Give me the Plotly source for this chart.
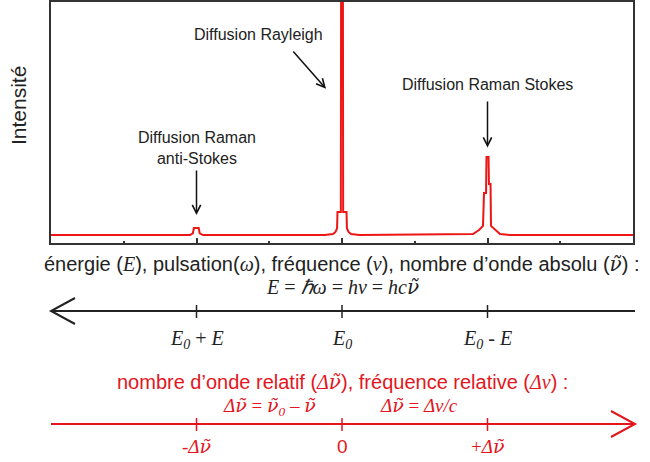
import plotly.graph_objects as go

# ---------------- data ----------------
# relative wavenumber shift (units of Δν̃) and intensity (arbitrary, 0-100)
shift = [-2.0, -1.045, -1.025, -1.018, -0.985, -0.978, -0.955,
         -0.12, -0.062, -0.045, -0.034, -0.031, -0.008, -0.006, 0.006, 0.008, 0.031, 0.034, 0.045, 0.062, 0.12,
         0.90, 0.942, 0.969, 0.976, 0.99, 0.993, 1.007, 1.01, 1.021, 1.024, 1.052, 1.086, 1.155,
         2.0]
intensity = [3.3, 3.3, 4.0, 6.2, 6.2, 4.0, 3.3,
             3.3, 3.7, 4.6, 6.0, 12.9, 12.9, 120, 120, 12.9, 12.9, 6.0, 4.6, 3.7, 3.3,
             3.7, 5.4, 7.1, 20.7, 20.7, 35.7, 35.7, 24.5, 24.5, 7.1, 5.4, 3.7, 3.3,
             3.3]

peak_pos = [-1.0, 0.0, 1.0]
peak_names = ["Diffusion Raman<br>anti-Stokes", "Diffusion Rayleigh", "Diffusion Raman Stokes"]

axis_ticks = [-1, 0, 1]
NU = "<span style=\"font-family:DejaVu Serif\"><i>ν̃</i></span>"
energy_labels = ["<i>E</i><sub><i>0</i></sub> + <i>E</i>",
                 "<i>E</i><sub><i>0</i></sub>",
                 "<i>E</i><sub><i>0</i></sub> - <i>E</i>"]
relative_labels = ["-<i>Δ</i>" + NU, "<span style=\"font-family:Liberation Sans\">0</span>", "+<i>Δ</i>" + NU]

RED = "#e3161d"
LINE_RED = "#ee1515"
SANS = "Liberation Sans, Arial, sans-serif"
SERIF = "Liberation Serif, Times New Roman, serif"


def py(p):
    """pixel row -> paper y (plot area spans rows 2..462)"""
    return (462 - p) / 460


def px(p):
    """pixel column -> paper x (plot area spans cols 51..633)"""
    return (p - 51) / 582


fig = go.Figure()
fig.add_trace(go.Scatter(x=shift, y=intensity, mode="lines",
                         line=dict(color=LINE_RED, width=2), hoverinfo="skip",
                         showlegend=False, cliponaxis=True))

shapes = []
annotations = []


def note(**kw):
    kw.setdefault("xanchor", "center")
    kw.setdefault("yanchor", "middle")
    kw.setdefault("showarrow", False)
    annotations.append(kw)


# ---- lower black (absolute) axis with left arrow ----
shapes.append(dict(type="line", xref="paper", yref="paper", x0=px(51), x1=px(635),
                   y0=py(311), y1=py(311), line=dict(color="#222", width=2)))
shapes.append(dict(type="path", xref="paper", yref="paper",
                   path=f"M{px(75)},{py(298)} L{px(51)},{py(311)} L{px(75)},{py(324)}",
                   line=dict(color="#222", width=2)))
# ---- lower red (relative) axis with right arrow ----
shapes.append(dict(type="line", xref="paper", yref="paper", x0=px(51), x1=px(635),
                   y0=py(424), y1=py(424), line=dict(color=RED, width=2)))
shapes.append(dict(type="path", xref="paper", yref="paper",
                   path=f"M{px(611)},{py(411)} L{px(635)},{py(424)} L{px(611)},{py(437)}",
                   line=dict(color=RED, width=2)))

for t, lab_e, lab_r in zip(axis_ticks, energy_labels, relative_labels):
    shapes.append(dict(type="line", xref="x", yref="paper", x0=t, x1=t,
                       y0=py(305), y1=py(318), line=dict(color="#222", width=1.5)))
    shapes.append(dict(type="line", xref="x", yref="paper", x0=t, x1=t,
                       y0=py(418), y1=py(431), line=dict(color=RED, width=1.5)))
    note(x=t, y=py(339), xref="x", yref="paper", text=lab_e,
         font=dict(family=SERIF, size=20, color="#222"))
    note(x=t, y=py(446), xref="x", yref="paper", text=lab_r,
         font=dict(family=SERIF, size=19, color=RED))

# ---- explanatory texts ----
sp = "<span style=\"font-family:Liberation Serif\"><i>{}</i></span>"
note(x=0, y=py(264), xref="x", yref="paper",
     text=("énergie (" + sp.format("E") + "), pulsation(" + sp.format("ω") + "), fréquence ("
           + sp.format("ν") + "), nombre d’onde absolu (" + NU + ") :"),
     font=dict(family=SANS, size=20, color="#222"))
note(x=0, y=py(287), xref="x", yref="paper",
     text="<i>E</i> = <i>ℏω</i> = <i>hν</i> = <i>hc</i>" + NU,
     font=dict(family=SERIF, size=20, color="#222"))
note(x=0, y=py(382), xref="x", yref="paper",
     text=("nombre d’onde relatif (" + sp.format("Δ") + NU + "), fréquence relative ("
           + sp.format("Δν") + ") :"),
     font=dict(family=SANS, size=20, color=RED))
note(x=-0.495, y=py(406), xref="x", yref="paper",
     text="<i>Δ</i>" + NU + " = " + NU + "<sub><i>0</i></sub> – " + NU,
     font=dict(family=SERIF, size=19, color=RED))
note(x=0.53, y=py(405), xref="x", yref="paper",
     text="<i>Δ</i>" + NU + " = <i>Δν/c</i>",
     font=dict(family=SERIF, size=19, color=RED))

# ---- y title ----
note(x=px(18), y=py(106), xref="paper", yref="paper", text="Intensité", textangle=-90,
     font=dict(family=SANS, size=21, color="#222"))

# ---- peak labels and arrows ----
note(x=peak_pos[0], y=39.4, xref="x", yref="y", text=peak_names[0],
     font=dict(family=SANS, size=16, color="#222"))
annotations.append(dict(x=peak_pos[0], y=11.6, ax=peak_pos[0], ay=30.7, xref="x", yref="y",
                        axref="x", ayref="y", text="", showarrow=True, arrowhead=5,
                        arrowsize=1.1, arrowwidth=1.5, arrowcolor="#111"))
note(x=-0.577, y=86.7, xref="x", yref="y", text=peak_names[1],
     font=dict(family=SANS, size=16, color="#222"))
annotations.append(dict(x=-0.11, y=64.0, ax=-0.344, ay=80.1, xref="x", yref="y",
                        axref="x", ayref="y", text="", showarrow=True, arrowhead=5,
                        arrowsize=1.1, arrowwidth=1.5, arrowcolor="#111"))
note(x=peak_pos[2], y=65.6, xref="x", yref="y", text=peak_names[2],
     font=dict(family=SANS, size=16, color="#222"))
annotations.append(dict(x=peak_pos[2], y=39.6, ax=peak_pos[2], ay=59.3, xref="x", yref="y",
                        axref="x", ayref="y", text="", showarrow=True, arrowhead=5,
                        arrowsize=1.1, arrowwidth=1.5, arrowcolor="#111"))

fig.update_layout(
    width=650, height=462,
    margin=dict(l=51, r=17, t=2, b=0),
    paper_bgcolor="white", plot_bgcolor="white",
    showlegend=False,
    shapes=shapes, annotations=annotations,
    xaxis=dict(range=[-2, 2], domain=[0, 1], anchor="y",
               showline=True, mirror=True, linecolor="#333", linewidth=2,
               ticks="inside", tick0=0, dtick=1, ticklen=5, tickwidth=2, tickcolor="#333",
               minor=dict(dtick=0.5, ticks="inside", ticklen=2, tickwidth=2, tickcolor="#333"),
               showticklabels=False, showgrid=False, zeroline=False),
    yaxis=dict(range=[0, 100], domain=[py(243), 1], anchor="x",
               showline=True, mirror=True, linecolor="#333", linewidth=2,
               ticks="", showticklabels=False, showgrid=False, zeroline=False),
)

fig.write_html("out.html", config={"displayModeBar": False},
               post_script="document.body.style.margin='0';document.body.style.overflow='hidden';")
